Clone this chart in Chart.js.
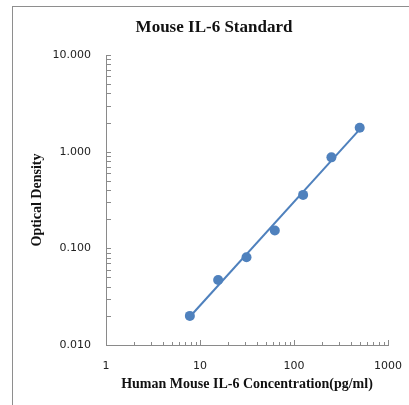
<!DOCTYPE html>
<html>
<head>
<meta charset="utf-8">
<script src="https://cdn.jsdelivr.net/npm/chart.js@4.4.0/dist/chart.umd.min.js"></script>
<style>
  body { margin: 0; background: #fff; }
  #wrap { position: relative; width: 409px; height: 405px; overflow: hidden; }
  #frame { position: absolute; left: 12px; top: 6px; width: 420px; height: 420px; border: 1px solid #8e8e8e; }
  canvas { position: absolute; left: 0; top: 0; }
</style>
</head>
<body>
<div id="wrap">
  <div id="frame"></div>
  <canvas id="chartOD" width="409" height="405"></canvas>
</div>
<script>
'use strict';

// Data.
const concentrations = [7.8, 15.6, 31.25, 62.5, 125, 250, 500];
const odValues = [0.020, 0.047, 0.081, 0.153, 0.357, 0.873, 1.77];

// Trend line end points (as drawn on the reference).
const trendX = [7.8, 500];
const trendY = [0.0196, 1.70];

// Axis decades.
const xMajorTicks = [1, 10, 100, 1000];
const yMajorTicks = [0.01, 0.1, 1, 10];

const seriesColor = '#4f81bd';
const axisColor = '#8a8a8a';

// Draws the small tick marks on the inside of both axes.
const innerTicks = {
  id: 'innerTicks',
  afterDraw(chart) {
    const ctx = chart.ctx;
    const xs = chart.scales.x;
    const ys = chart.scales.y;
    const area = chart.chartArea;
    ctx.save();
    ctx.strokeStyle = axisColor;
    ctx.lineWidth = 1;
    ctx.beginPath();
    for (let i = 0; i < xMajorTicks.length; i++) {
      let steps = i < xMajorTicks.length - 1 ? [1, 2, 3, 4, 5, 6, 7, 8, 9] : [1];
      for (let m of steps) {
        let px = Math.round(xs.getPixelForValue(xMajorTicks[i] * m)) + 0.5;
        let len = m === 1 ? 5 : 3;
        ctx.moveTo(px, area.bottom);
        ctx.lineTo(px, area.bottom - len);
      }
    }
    for (let i = 0; i < yMajorTicks.length; i++) {
      let steps = i < yMajorTicks.length - 1 ? [1, 2, 3, 4, 5, 6, 7, 8, 9] : [1];
      for (let m of steps) {
        let py = Math.round(ys.getPixelForValue(yMajorTicks[i] * m)) + 0.5;
        ctx.moveTo(area.left, py);
        ctx.lineTo(area.left + 5, py);
      }
    }
    ctx.stroke();
    ctx.restore();
  }
};

// Chart title, centred over the whole picture rather than the plot.
const chartTitle = {
  id: 'chartTitle',
  afterDraw(chart) {
    const ctx = chart.ctx;
    ctx.save();
    ctx.font = 'bold 17px "Liberation Serif"';
    ctx.fillStyle = '#111';
    ctx.textAlign = 'center';
    ctx.textBaseline = 'middle';
    ctx.fillText('Mouse IL-6 Standard', 214, 28);
    ctx.restore();
  }
};

let pointData = [];
for (let i = 0; i < concentrations.length; i++) {
  pointData.push({x: concentrations[i], y: odValues[i]});
}
let trendData = [];
for (let i = 0; i < trendX.length; i++) {
  trendData.push({x: trendX[i], y: trendY[i]});
}

const tickFont = {family: '"DejaVu Sans"', size: 11};
const titleFont = {family: '"Liberation Serif"', size: 14, weight: 'bold'};

const config = {
  type: 'scatter',
  data: {
    datasets: [
      {
        label: 'Standard',
        data: pointData,
        backgroundColor: seriesColor,
        borderWidth: 0,
        pointRadius: 5,
        order: 0,
      },
      {
        label: 'Trend',
        data: trendData,
        showLine: true,
        borderColor: seriesColor,
        borderWidth: 2,
        pointRadius: 0,
        order: 1,
      },
    ]
  },
  plugins: [innerTicks, chartTitle],
  options: {
    responsive: false,
    animation: false,
    layout: {padding: {top: 55, right: 21, left: 0, bottom: 0}},
    plugins: {
      legend: {display: false},
      tooltip: {enabled: false},
    },
    scales: {
      x: {
        type: 'logarithmic',
        min: 1,
        max: 1000,
        afterBuildTicks: (scale) => { scale.ticks = xMajorTicks.map(v => ({value: v})); },
        afterFit: (scale) => {
          scale.height = 60;
          scale.paddingLeft = 0;
          scale.paddingRight = 0;
        },
        grid: {drawOnChartArea: false, drawTicks: false},
        border: {display: true, color: axisColor, width: 1},
        ticks: {
          font: tickFont,
          color: '#222',
          padding: 15,
          maxRotation: 0,
          autoSkip: false,
          callback: (v) => String(v),
        },
        title: {
          display: true,
          text: 'Human Mouse IL-6 Concentration(pg/ml)',
          font: titleFont,
          color: '#111',
          padding: {top: 0, bottom: 12},
        },
      },
      y: {
        type: 'logarithmic',
        min: 0.01,
        max: 10,
        afterBuildTicks: (scale) => { scale.ticks = yMajorTicks.map(v => ({value: v})); },
        afterFit: (scale) => { scale.width = 106; },
        grid: {drawOnChartArea: false, drawTicks: false},
        border: {display: true, color: axisColor, width: 1},
        ticks: {
          font: tickFont,
          color: '#222',
          padding: 15,
          autoSkip: false,
          callback: (v) => Number(v).toFixed(3),
        },
        title: {
          display: true,
          text: 'Optical Density',
          font: titleFont,
          color: '#111',
          padding: {top: 29, bottom: 0},
        },
      },
    },
  },
};

const chartOD = new Chart(document.getElementById('chartOD'), config);
</script>
</body>
</html>
